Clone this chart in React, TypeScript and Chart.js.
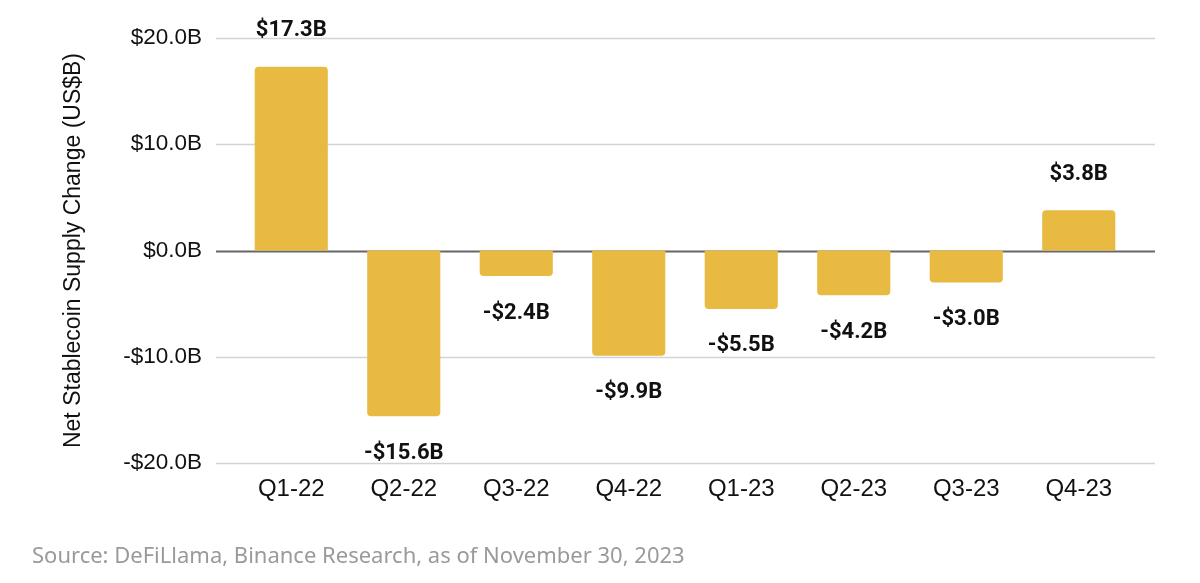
import React, { useEffect, useRef } from "react";
import { Chart, registerables } from "chart.js";

Chart.register(...registerables);

const categories = ["Q1-22", "Q2-22", "Q3-22", "Q4-22", "Q1-23", "Q2-23", "Q3-23", "Q4-23"];
const supplyChange = [17.3, -15.6, -2.4, -9.9, -5.5, -4.2, -3.0, 3.8];
const yTitle = "Net Stablecoin Supply Change (US$B)";
const sourceText = "Source: DeFiLlama, Binance Research, as of November 30, 2023";

const fmt = (v: number) => (v < 0 ? `-$${Math.abs(v).toFixed(1)}B` : `$${v.toFixed(1)}B`);

const gridPlugin = {
  id: "extGrid",
  beforeDatasetsDraw(chart: any) {
    const { ctx, chartArea, scales } = chart;
    const y = scales.y;
    ctx.save();
    y.ticks.forEach((t: any) => {
      const py = Math.round(y.getPixelForValue(t.value)) + 0.5;
      ctx.beginPath();
      ctx.strokeStyle = t.value === 0 ? "#666666" : "#d3d3d3";
      ctx.lineWidth = t.value === 0 ? 2 : 1.5;
      ctx.moveTo(chartArea.left - 19, py);
      ctx.lineTo(chartArea.right + 20, py);
      ctx.stroke();
    });
    ctx.restore();
  },
};

const labelPlugin = {
  id: "barLabels",
  afterDatasetsDraw(chart: any) {
    const { ctx } = chart;
    const meta = chart.getDatasetMeta(0);
    const data = chart.data.datasets[0].data as number[];
    ctx.save();
    ctx.font = "bold 22px Roboto";
    ctx.fillStyle = "#111111";
    ctx.textAlign = "center";
    ctx.textBaseline = "middle";
    meta.data.forEach((el: any, i: number) => {
      const v = data[i];
      const ly = v >= 0 ? el.y - 36 : el.y + 37;
      ctx.fillText(fmt(v), el.x, ly);
    });
    ctx.restore();
  },
};

export default function App() {
  const ref = useRef<HTMLCanvasElement | null>(null);
  useEffect(() => {
    if (!ref.current) return;
    const chart = new Chart(ref.current, {
      type: "bar",
      data: {
        labels: categories,
        datasets: [
          {
            data: supplyChange,
            backgroundColor: "#E8BA42",
            borderRadius: 4,
            borderSkipped: "start",
            categoryPercentage: 1,
            barPercentage: 0.65,
          },
        ],
      },
      options: {
        animation: false,
        responsive: true,
        maintainAspectRatio: false,
        layout: { padding: { left: 0, right: 65, top: 38, bottom: 0 } },
        plugins: {
          legend: { display: false },
          tooltip: { enabled: false },
        },
        scales: {
          x: {
            grid: { display: false, drawTicks: false },
            border: { display: false },
            ticks: {
              color: "#111111",
              font: { family: "'Liberation Sans', Arial, sans-serif", size: 24 },
              padding: 12,
            },
            afterFit: (s: any) => {
              s.height = 120;
              s.paddingLeft = 0;
              s.paddingRight = 0;
            },
          },
          y: {
            min: -20,
            max: 20,
            grid: { display: false, drawTicks: false },
            border: { display: false },
            ticks: {
              stepSize: 10,
              color: "#111111",
              font: { family: "'Liberation Sans', Arial, sans-serif", size: 22.5 },
              padding: 33,
              callback: (v: any) => fmt(Number(v)),
            },
            title: {
              display: true,
              text: yTitle,
              color: "#111111",
              font: { family: "'Liberation Sans', Arial, sans-serif", size: 23 },
              padding: { top: 60, bottom: 0 },
            },
            afterFit: (s: any) => {
              s.width = 235;
              s.paddingTop = 0;
              s.paddingBottom = 0;
            },
          },
        },
      },
      plugins: [gridPlugin, labelPlugin],
    });
    return () => chart.destroy();
  }, []);

  return (
    <div style={{ position: "fixed", left: 0, top: 0, width: 1200, height: 583, background: "#ffffff" }}>
      <canvas ref={ref} />
      <div
        style={{
          position: "absolute",
          left: 32,
          top: 539,
          fontFamily: "'Noto Sans', sans-serif",
          fontSize: 22,
          color: "#9a9a9a",
          whiteSpace: "nowrap",
        }}
      >
        {sourceText}
      </div>
    </div>
  );
}
